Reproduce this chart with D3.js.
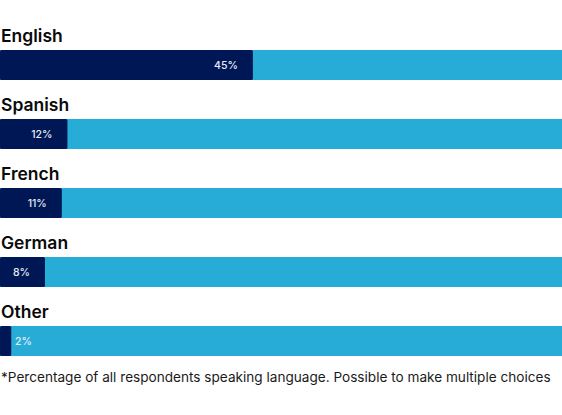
<!DOCTYPE html>
<html>
<head>
<meta charset="utf-8">
<script src="https://cdn.jsdelivr.net/npm/d3@7"></script>
<style>
  body { margin: 0; background: #fff; }
  svg { display: block; }
</style>
</head>
<body>
<div id="chart"></div>
<script>
const WIDTH = 562;
const HEIGHT = 415;

const languages = ['English', 'Spanish', 'French', 'German', 'Other'];
const shares = [45, 12, 11, 8, 2];
const note = '*Percentage of all respondents speaking language. Possible to make multiple choices';

const DARK = '#001755';
const LIGHT = '#27acd8';
const FONT = 'Inter, "Noto Sans", sans-serif';

const svg = d3.select('#chart').append('svg')
  .attr('width', WIDTH)
  .attr('height', HEIGHT);

const x = d3.scaleLinear()
  .domain([0, 100])
  .range([0, WIDTH]);

// each row: label above, bar below
const rows = d3.scaleBand()
  .domain(languages)
  .range([22, 367])
  .paddingInner(0);

const BAR_H = 30;
const BAR_OFFSET = 28;

const data = languages.map((name, i) => ({ name, value: shares[i] }));

const row = svg.selectAll('g.row')
  .data(data)
  .enter()
  .append('g')
  .attr('class', 'row')
  .attr('transform', d => `translate(0,${rows(d.name)})`);

row.append('text')
  .text(d => d.name)
  .attr('x', 1)
  .attr('y', 20)
  .attr('font-family', FONT)
  .attr('font-weight', 600)
  .attr('font-size', 17.5)
  .attr('fill', '#0a0a0a');

row.append('rect')
  .attr('x', x(0))
  .attr('y', BAR_OFFSET)
  .attr('width', x(100) - x(0))
  .attr('height', BAR_H)
  .attr('fill', LIGHT);

row.append('rect')
  .attr('x', x(0))
  .attr('y', BAR_OFFSET)
  .attr('width', d => x(d.value) - x(0))
  .attr('height', BAR_H)
  .attr('rx', 1.5)
  .attr('fill', DARK);

// value label: inside the dark bar, or just past it when the bar is too short
row.append('text')
  .text(d => d.value + '%')
  .attr('x', d => x(d.value) > 30 ? x(d.value) - 15 : 15)
  .attr('text-anchor', d => x(d.value) > 30 ? 'end' : 'start')
  .attr('y', BAR_OFFSET + BAR_H / 2 + 4)
  .attr('font-family', FONT)
  .attr('font-weight', 500)
  .attr('font-size', 10.5)
  .attr('fill', '#e6ecf5');

svg.append('text')
  .text(note)
  .attr('x', 1)
  .attr('y', 382)
  .attr('font-family', FONT)
  .attr('font-size', 13.6)
  .attr('fill', '#1a1a1a');
</script>
</body>
</html>
